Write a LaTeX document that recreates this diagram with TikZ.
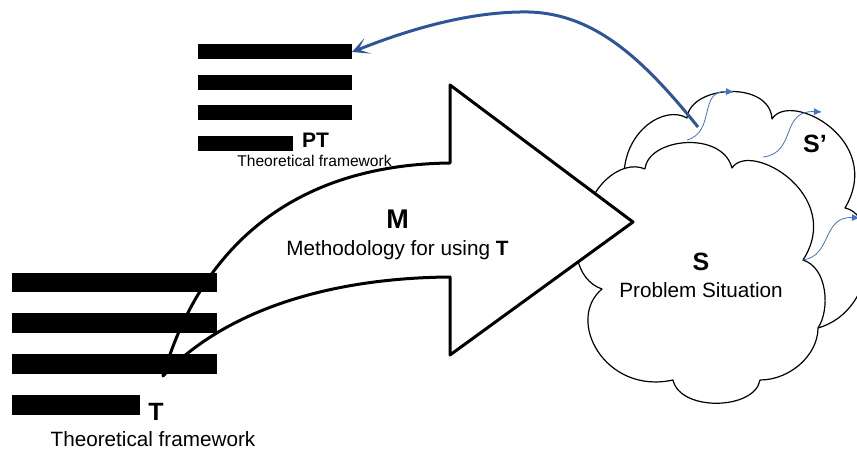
\documentclass[tikz,border=0pt]{standalone}
\usepackage{fontspec}
\setmainfont{Liberation Sans}
\usetikzlibrary{arrows.meta}
\definecolor{blueD}{RGB}{47,85,151}
\definecolor{blueL}{RGB}{68,114,196}
\begin{document}
\begin{tikzpicture}[x=1pt,y=-1pt,
  barpt/.style={fill=black,inner sep=0pt,outer sep=0pt,minimum height=15pt},
  bart/.style={fill=black,inner sep=0pt,outer sep=0pt,minimum height=19.5pt},
  cloudline/.style={draw=black,fill=white,line width=1.2pt,line join=round},
  flow/.style={draw=black,fill=white,line width=3pt,line join=round},
  spread/.style={draw=blueL,line width=0.8pt,-{Latex[length=8pt,width=7pt]}},
  feedback/.style={draw=blueD,line width=3pt,-{Stealth[length=17pt,width=17pt,inset=10pt]}},
  bigletter/.style={font=\fontsize{25}{30}\selectfont\bfseries,inner sep=0pt},
  txt/.style={font=\fontsize{20.7}{25}\selectfont,inner sep=0pt},
  smalltxt/.style={font=\fontsize{15.6}{19}\selectfont,inner sep=0pt}
]
\useasboundingbox (0,0) rectangle (857,449);

% back cloud S'
\path[cloudline] (624,175)
  .. controls (625,130) and (665,105) .. (687,118)
  .. controls (690,85) and (770,80) .. (772,119)
  .. controls (790,90) and (885,140) .. (845,208)
  .. controls (880,215) and (880,310) .. (818,328)
  -- (720,300) -- (640,215) -- cycle;

% front cloud S
\path[cloudline] (645,169)
  .. controls (648,138) and (722,130) .. (732,168)
  .. controls (750,140) and (845,195) .. (803,260)
  .. controls (828,268) and (830,310) .. (818,328)
  .. controls (818,355) and (790,380) .. (760,380)
  .. controls (755,410) and (680,412) .. (673,380)
  .. controls (605,395) and (565,320) .. (602,289)
  .. controls (575,280) and (570,240) .. (585,228)
  .. controls (585,190) and (620,158) .. (645,169);

% spreading from S to S'
\coordinate (s1a) at (687,140); \coordinate (s1b) at (734,92);
\coordinate (s2a) at (763,157); \coordinate (s2b) at (822,112);
\coordinate (s3a) at (803,260); \coordinate (s3b) at (860,218);
\draw[spread] (s1a) .. controls (716,132) and (698,90) .. (s1b);
\draw[spread] (s2a) .. controls (797,153) and (780,110) .. (s2b);
\draw[spread] (s3a) .. controls (832,256) and (822,216) .. (s3b);

% methodology arrow M
\path[flow] (163,376) .. controls (200,250) and (290,165) .. (450,163)
  -- (450,85) -- (633,222) -- (450,355) -- (450,277)
  .. controls (320,278) and (220,315) .. (163,376) -- cycle;

% framework PT
\node[barpt,minimum width=154pt] (pt1) at (275,52) {};
\node[barpt,minimum width=154pt] (pt2) at (275,82.5) {};
\node[barpt,minimum width=154pt] (pt3) at (275,113) {};
\node[barpt,minimum width=95pt] (pt4) at (245.5,143.5) {};
\node[bigletter,font=\fontsize{21}{25}\selectfont\bfseries,anchor=base west] (ptlab) at (302,148) {PT};
\node[smalltxt,anchor=base] (ptcap) at (314.5,167) {Theoretical framework};

% framework T
\node[bart,minimum width=205pt] (t1) at (114.5,282.5) {};
\node[bart,minimum width=205pt] (t2) at (114.5,323) {};
\node[bart,minimum width=205pt] (t3) at (114.5,364) {};
\node[bart,minimum width=128pt] (t4) at (76,405) {};
\node[bigletter,anchor=base] (tlab) at (156,420) {T};
\node[txt,anchor=base] (tcap) at (153,446) {Theoretical framework};

% labels
\node[bigletter,font=\fontsize{27}{32}\selectfont\bfseries,anchor=base] (mlab) at (397.5,229) {M};
\node[txt,anchor=base] (mcap) at (397.5,255) {Methodology for using \textbf{T}};
\node[bigletter,anchor=base] (slab) at (701,271) {S};
\node[txt,anchor=base] (scap) at (701,298) {Problem Situation};
\node[bigletter,anchor=base] (splab) at (815,153) {S’};

% feedback from S' to PT
\coordinate (fb) at (698,127);
\draw[feedback] (fb) .. controls (640,55) and (590,10) .. (520,12)
  .. controls (460,13) and (400,33) .. (pt1.east);
\end{tikzpicture}
\end{document}
